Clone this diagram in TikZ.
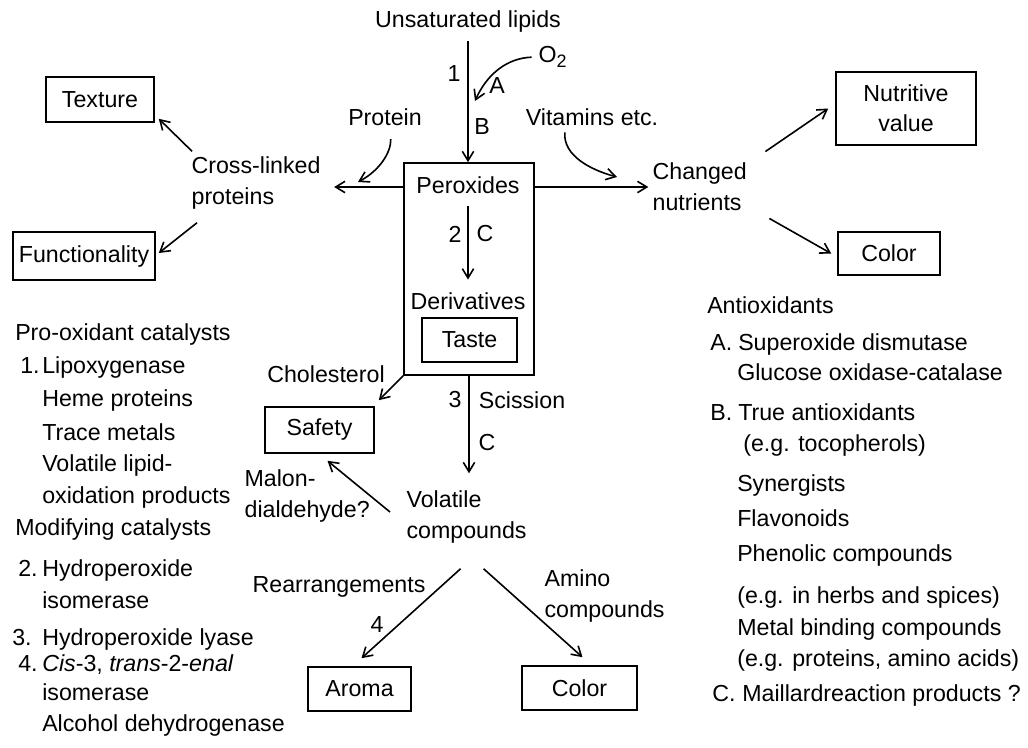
\documentclass[tikz,border=0pt]{standalone}
\usepackage{fontspec}
\setmainfont{Liberation Sans}
\usetikzlibrary{arrows.meta}
\newcommand{\fs}{\fontsize{17.4}{23}\selectfont}
\begin{document}
\begin{tikzpicture}[x=0.75pt,y=-0.75pt,
 txt/.style={font=\fs, inner sep=1pt},
 ml/.style={font=\fs, inner sep=1pt, align=left},
 lst/.style={font=\fs, inner sep=0pt, anchor=base west},
 box/.style={draw, line width=1.2pt, font=\fs, inner sep=0pt},
 arr/.style={-{Straight Barb[length=7pt,width=8.5pt]}, line width=1.2pt}]
\useasboundingbox (0,0) rectangle (1028,747);

% boxes
\node[box, minimum width=81pt, minimum height=33.75pt] (tex) at (100,99.5) {Texture};
\node[box, minimum width=106.5pt, minimum height=36pt] (fun) at (84,256) {Functionality};
\node[box, minimum width=97.5pt, minimum height=159pt] (perbox) at (469,269) {};
\node[box, minimum width=71.25pt, minimum height=33pt] (taste) at (469.5,340) {Taste};
\node[box, minimum width=81.75pt, minimum height=34.5pt] (saf) at (319.5,430) {Safety};
\node[box, minimum width=77.25pt, minimum height=33pt] (aro) at (359.5,689) {Aroma};
\node[box, minimum width=86.25pt, minimum height=33pt] (cb) at (579.5,688) {Color};
\node[box, minimum width=105pt, minimum height=54.75pt, align=center, font=\fontsize{17.4}{22.5}\selectfont] (nv) at (906,108.5) {Nutritive\\value};
\node[box, minimum width=76.5pt, minimum height=32.25pt] (cr) at (889,253.5) {Color};

% texts
\node[txt] (ul) at (468,21) {Unsaturated lipids};
\node[txt, anchor=west] (o2) at (537,57) {O\raisebox{-0.4ex}{\fontsize{13.5}{14}\selectfont 2}};
\node[txt] (n1) at (454,74) {1};
\node[txt] (la) at (497,86) {A};
\node[txt] (lb) at (482,127) {B};
\node[txt] (prot) at (385,117) {Protein};
\node[txt] (vit) at (592,117) {Vitamins etc.};
\node[ml, anchor=west] (cl) at (190,183) {Cross-linked\\proteins};
\node[ml, anchor=west] (cn) at (651,187) {Changed\\nutrients};
\node[txt] (per) at (468,185) {Peroxides};
\node[txt] (n2) at (455,234) {2};
\node[txt] (lc1) at (485,234) {C};
\node[txt] (der) at (468,301) {Derivatives};
\node[txt] (chol) at (326,374) {Cholesterol};
\node[txt] (n3) at (455,400) {3};
\node[txt] (sci) at (522,400) {Scission};
\node[txt] (lc2) at (487,443) {C};
\node[ml, anchor=west] (mal) at (243,496) {Malon-\\dialdehyde?};
\node[ml, anchor=west] (vc) at (405,517) {Volatile\\compounds};
\node[txt] (rea) at (339,587) {Rearrangements};
\node[txt] (n4) at (377,625) {4};
\node[ml, anchor=west] (amc) at (543,596) {Amino\\compounds};

% left list
\node[lst] (p0) at (15,340) {Pro-oxidant catalysts};
\node[lst] (p1n) at (20,373) {1.};
\node[lst] (p1) at (42,373) {Lipoxygenase};
\node[lst] (p2) at (42,406) {Heme proteins};
\node[lst] (p3) at (42,440) {Trace metals};
\node[lst] (p4) at (42,471) {Volatile lipid-};
\node[lst] (p5) at (42,503) {oxidation products};
\node[lst] (m0) at (15,535) {Modifying catalysts};
\node[lst] (m2n) at (18,576) {2.};
\node[lst] (m2) at (42,576) {Hydroperoxide};
\node[lst] (m2b) at (42,608) {isomerase};
\node[lst] (m3n) at (12,645) {3.};
\node[lst] (m3) at (42,645) {Hydroperoxide lyase};
\node[lst] (m4n) at (18,671) {4.};
\node[lst] (m4) at (42,671) {\textit{Cis}-3, \textit{trans}-2-\textit{enal}};
\node[lst] (m4b) at (42,700) {isomerase};
\node[lst] (m5) at (42,731) {Alcohol dehydrogenase};

% right list
\node[lst] (a0) at (707,313) {Antioxidants};
\node[lst] (a1n) at (710,350) {A.};
\node[lst] (a1) at (738,350) {Superoxide dismutase};
\node[lst] (a2) at (737,380) {Glucose oxidase-catalase};
\node[lst] (b1n) at (710,420) {B.};
\node[lst] (b1) at (738,420) {True antioxidants};
\node[lst] (b2) at (743,451) {(e.g. tocopherols)};
\node[lst] (b3) at (737,491) {Synergists};
\node[lst] (b4) at (737,526) {Flavonoids};
\node[lst] (b5) at (737,561) {Phenolic compounds};
\node[lst] (b6) at (737,603) {(e.g. in herbs and spices)};
\node[lst] (b7) at (737,635) {Metal binding compounds};
\node[lst] (b8) at (737,666) {(e.g. proteins, amino acids)};
\node[lst] (c1n) at (712,701) {C.};
\node[lst] (c1) at (742,701) {Maillardreaction products ?};

% coordinates
\coordinate (ina) at (475,101);
\coordinate (inp) at (358,182);
\coordinate (inv) at (617,177);
\coordinate (lvl) at (0,187);

% connectors
\draw[arr, shorten <=6pt] (ul.south) -- (ul.south |- perbox.north);
\draw[arr, shorten <=4pt] (o2.west) to[out=182,in=66] (ina);
\draw[arr, shorten <=9pt] ([xshift=4pt]prot.south) to[out=-88,in=28] (inp);
\draw[arr, shorten <=4pt] ([xshift=-20pt]vit.south) to[out=-95,in=165] (inv);
\draw[arr, shorten >=9pt] (perbox.west |- lvl) -- (cl.east |- lvl);
\draw[arr, shorten >=2pt] (perbox.east |- lvl) -- (cn.west |- lvl);
\draw[arr] ([shift={(2,-4)}]cl.north west) -- ([shift={(4,-4)}]tex.south east);
\draw[arr] ([shift={(7,12)}]cl.south west) -- ([shift={(3,-3)}]fun.east);
\draw[arr] ([shift={(17,-10)}]cn.north east) -- ([shift={(-7,0)}]nv.west);
\draw[arr] ([shift={(21,6)}]cn.south east) -- ([shift={(-6,0)}]cr.west);
\draw[arr, shorten <=8pt, shorten >=8.5pt] (per) -- (der);
\draw[arr, shorten >=12pt] (perbox.south) -- (perbox.south |- vc.north);
\draw[arr] (perbox.south west) -- ([shift={(4,-6)}]saf.north east);
\draw[arr] ([shift={(-15,-5)}]vc.west) -- ([shift={(8,7)}]saf.south);
\draw[arr] ([shift={(-6,24)}]vc.south) -- ([shift={(2,-8)}]aro.north);
\draw[arr] ([shift={(17,24)}]vc.south) -- ([shift={(3,-8)}]cb.north);
\end{tikzpicture}
\end{document}
